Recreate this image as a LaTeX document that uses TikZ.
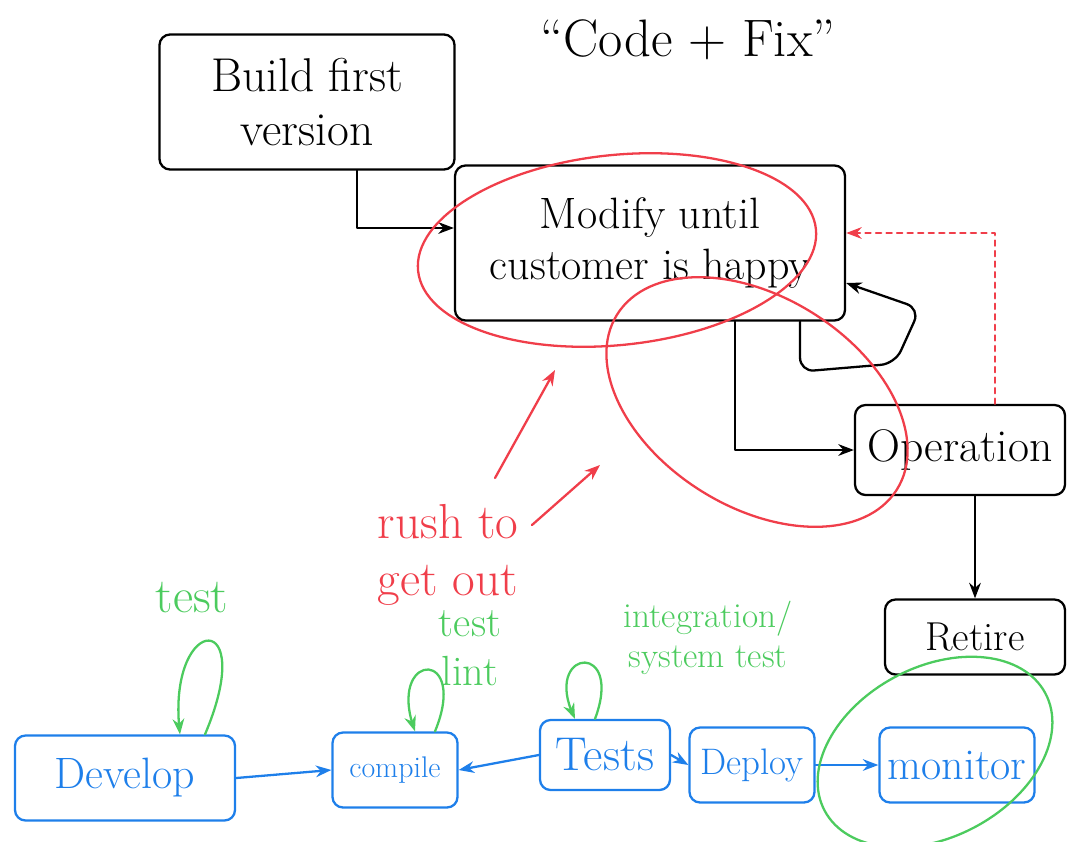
\documentclass[tikz,border=0pt]{standalone}
\usepackage{xcolor}
\usepackage{tikz}
\usetikzlibrary{arrows.meta,bending}

\definecolor{inkred}{HTML}{F03E4A}
\definecolor{inkgreen}{HTML}{4CCB5E}
\definecolor{inkblue}{HTML}{1E7FEA}

\newcommand{\fs}[1]{\fontsize{#1}{1.15\dimexpr #1pt\relax}\selectfont}

\begin{document}
\begin{tikzpicture}[
  x=0.2mm, y=-0.2mm,
  ->, >=Stealth, line width=1.3pt, line cap=round, line join=round,
  box/.style={draw, rounded corners=6pt, align=center, font=\fs{23}},
  bbox/.style={box, draw=inkblue, text=inkblue},
  hot/.style={draw=inkred, -},
  lp/.style={draw=inkgreen},
  glbl/.style={text=inkgreen, align=center, font=\fs{20}},
]
\useasboundingbox (0,0) rectangle (1070,841);

% Title
\node[font=\fs{30}] (title) at (688,40) {``Code + Fix''};

% --- Code + fix cycle (black) ---
\node[box, font=\fs{27}, minimum width=59mm, minimum height=27mm] (build)  at (307,102) {Build first\\version};
\node[box, font=\fs{25}, minimum width=78mm, minimum height=31mm] (modify) at (650,243) {Modify until\\customer is happy};
\node[box, font=\fs{26}, minimum width=42mm, minimum height=18mm] (oper)   at (960,450) {Operation};
\node[box, minimum width=36mm, minimum height=15mm] (retire) at (975,637) {Retire};

\draw ([xshift=10mm]build.south) |- ([yshift=3mm]modify.west);
% Modify loops back on itself
\draw[rounded corners=8pt] ([xshift=30mm]modify.south) -- ++(0,50) -- ++(95,-8)
    -- ++(25,-55) -- ([yshift=-8mm]modify.east);
\draw ([xshift=17mm]modify.south) |- (oper.west);
\draw (retire.north |- oper.south) -- (retire.north);
% Operation feeds back (dashed, red)
\draw[dashed, inkred] ([xshift=7mm]oper.north) |- ([yshift=2mm]modify.east);

% --- Red notes ---
\draw[hot, rotate around={6:(617,250)}] (617,250) ellipse [x radius=200, y radius=95];
\draw[hot, rotate around={-32:(757,402)}] (757,402) ellipse [x radius=165, y radius=105];
\node[text=inkred, font=\fs{28}, align=left] (rush) at (448,555) {rush to\\get out};
\coordinate (r1) at (495,478);
\coordinate (r2) at (532,525);
\coordinate (up1) at (555,370);
\coordinate (up2) at (600,465);
\draw[inkred] (r1) -- (up1);
\draw[inkred] (r2) -- (up2);

% --- Pipeline (blue) ---
\node[bbox, font=\fs{25}, minimum width=44mm, minimum height=17mm] (develop) at (125,778) {Develop};
\node[bbox, font=\fs{17}, minimum width=25mm, minimum height=15mm] (compile) at (395,770) {compile};
\node[bbox, font=\fs{27}, minimum width=26mm, minimum height=14mm] (tests)   at (605,755) {Tests};
\node[bbox, font=\fs{21}, minimum width=25mm, minimum height=15mm] (deploy)  at (752,765) {Deploy};
\node[bbox, font=\fs{25}, minimum width=31mm, minimum height=15mm] (monitor) at (957,765) {monitor};

\draw[inkblue] (develop.east) -- (compile.west);
\draw[inkblue] (tests.west) -- (compile.east);
\draw[inkblue] (tests.east) -- (deploy.west);
\draw[inkblue] (deploy.east) -- (monitor.west);

% --- Green test loops ---
\draw[lp] ([xshift=16mm]develop.north) .. controls +(55,-130) and +(-15,-120) .. ([xshift=11mm]develop.north);
\draw[lp] ([xshift=8mm]compile.north) .. controls +(35,-85) and +(-30,-80) .. ([xshift=4mm]compile.north);
\draw[lp] ([xshift=-2mm]tests.north) .. controls +(30,-80) and +(-35,-70) .. ([xshift=-6mm]tests.north);
\node[glbl, font=\fs{28}] (ltest) at (192,598) {test};
\node[glbl, font=\fs{24}] (llint) at (470,648) {test\\lint};
\node[glbl] (lsys) at (708,638) {integration/\\system test};
\draw[lp, -, rotate around={28:(935,752)}] (935,752) ellipse [x radius=125, y radius=85];
\end{tikzpicture}
\end{document}
